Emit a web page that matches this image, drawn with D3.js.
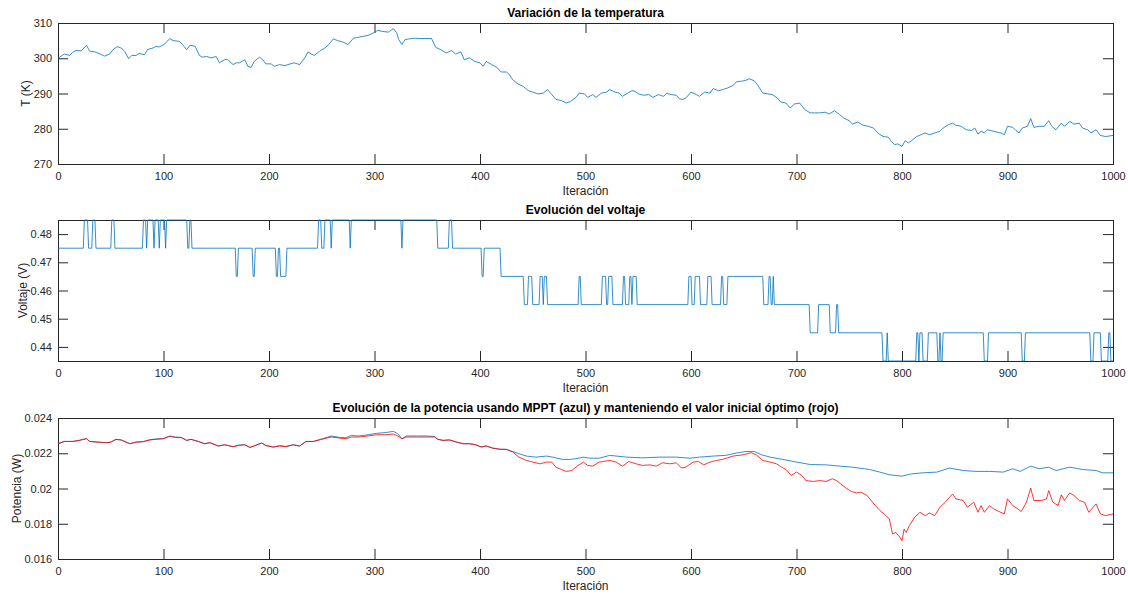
<!DOCTYPE html>
<html>
<head>
<meta charset="UTF-8">
<script src="https://cdn.jsdelivr.net/npm/d3@7"></script>
<style>
    body { margin: 0; background: #fff; }
    svg { display: block; font-family: "Liberation Sans", Arial, Helvetica, sans-serif; }
    .axis text { font-family: "Liberation Sans", Arial, Helvetica, sans-serif; font-size: 11px; fill: #262626; }
    .axis line { stroke: #262626; }
    .axis path { display: none; }
    .title { font-size: 12px; font-weight: bold; fill: #000; }
    .label { font-size: 12px; fill: #262626; }
</style>
</head>
<body>
<div id="chart"></div>
<script>
// temperature, [iteration, K]
const temperature = [
    [0,300],[6,301.2],[11,300.8],[14,301.7],[17,302.2],[22,302.1],[27,303.7],[30,302],[35,301.8],[40,301.2],
    [44,300.6],[49,301.2],[52,302.4],[56,303.3],[60,302.9],[63,302],[67,299.9],[70,300.8],[74,300.8],[77,301.4],
    [82,301],[85,302.5],[90,302.9],[93,303.4],[96,303.2],[101,304],[106,305.6],[109,305],[115,304.8],[118,303.9],
    [122,302.4],[125,303.7],[130,303.4],[134,300.8],[137,300.3],[141,300.5],[145,300.1],[150,300.5],[153,298.7],[158,299.6],
    [161,299.6],[166,298.2],[169,298.7],[172,298.7],[177,299.6],[180,297.7],[183,297.4],[186,299.1],[191,300.3],[194,299.6],
    [197,298.4],[202,298.4],[205,297.7],[210,298.2],[215,297.9],[220,298.4],[224,298.7],[229,298.2],[234,300.1],[237,301.8],
    [240,301.2],[243,300.8],[248,302],[253,302.9],[257,304],[261,305.5],[265,305],[270,304.6],[275,303.9],[280,305.7],
    [284,305.9],[289,306.2],[294,306.5],[299,307.2],[303,307.9],[308,307.6],[313,307.4],[318,308.4],[321,307.2],[323,305.3],
    [326,303.9],[329,305.3],[333,305.5],[338,305.7],[343,305.6],[347,305.6],[354,305.6],[358,303.1],[363,302.4],[368,301.5],
    [373,302.2],[377,301.2],[382,301.8],[385,299.6],[390,300.1],[395,299.1],[400,298.7],[403,297.7],[406,299.1],[411,298.2],
    [416,297.4],[420,296.1],[425,296.1],[428,295.3],[431,293.9],[436,292.7],[441,292],[446,290.8],[450,290.4],[455,289.9],
    [460,290.1],[464,291.1],[468,289.7],[472,288.3],[477,288],[482,287.3],[486,287.8],[491,288.9],[494,290.1],[499,289.9],
    [502,288.9],[507,289.7],[510,288.9],[515,290.1],[520,290.4],[523,291.1],[528,290.4],[532,290.1],[535,289.2],[540,290.1],
    [544,290.8],[547,290.6],[550,289.9],[555,289.5],[560,289.7],[564,288.9],[569,289.7],[574,289.2],[577,290.1],[581,289.7],
    [586,289.5],[589,288.5],[592,288.3],[595,288.7],[600,290.4],[605,289.7],[608,289.2],[613,290.4],[618,290.1],[621,291.4],
    [626,290.8],[630,291.1],[635,291.6],[640,292.3],[643,293.3],[648,293.5],[652,293.7],[655,294.2],[660,293.6],[663,292.5],
    [668,290.1],[673,289.9],[677,289.7],[682,288.7],[685,287.6],[690,287.3],[694,285.9],[698,287],[703,287.3],[708,285.4],
    [713,284.5],[717,284.5],[722,284.5],[727,284.7],[731,284.2],[736,285.1],[741,284],[745,283],[750,282.3],[753,281.3],
    [758,281.9],[763,281],[768,280.7],[773,280.2],[777,278.8],[782,277.8],[787,277.6],[790,276.4],[793,275.5],[796,275.7],
    [800,275],[803,276.6],[806,276],[809,276.6],[814,277.8],[818,278.3],[822,278.8],[826,278.3],[831,278.8],[836,279.3],
    [839,280.2],[843,281],[848,281.6],[851,281],[856,280.7],[861,279.7],[866,279.5],[869,280.2],[872,278.5],[875,279.3],
    [878,278.8],[881,279.7],[884,279.5],[889,279.1],[894,278.8],[897,278.3],[900,280.7],[905,280.4],[908,279.5],[911,278.8],
    [914,280.2],[919,280.7],[922,282.9],[925,280.4],[930,280.7],[935,280.7],[939,282.3],[942,280.7],[946,279.7],[951,281.6],
    [954,280.7],[959,282.1],[963,281.3],[968,281.6],[971,280.2],[976,279.7],[979,278.8],[984,279.7],[988,278.1],[993,277.8],
    [1000,278.1]
];

// voltage: the level holds from voltFrom[i] to voltTo[i]
const voltFrom = [0,25,29,33,36,51,54,81,84,85,91,92,96,97,102,103,123,125,127,169,171,185,187,207,209,211,217,247,250,253,259,260,277,278,326,327,360,371,374,402,404,420,442,446,450,457,460,461,464,494,496,516,520,522,526,536,538,542,544,545,549,598,601,604,609,616,620,629,631,635,669,674,676,678,679,713,721,732,738,740,782,786,787,814,816,817,820,825,834,836,837,839,878,882,914,917,979,982,989,996,998];
const voltTo   = [24,28,32,35,50,53,80,83,84,90,91,95,96,101,102,122,124,126,168,170,184,186,206,208,210,216,246,249,252,258,259,276,277,325,326,359,370,373,401,403,419,441,445,449,456,459,460,463,493,495,515,519,521,525,535,537,541,543,544,548,597,600,603,608,615,619,628,630,634,668,673,675,677,678,712,720,731,737,739,781,785,786,813,815,816,819,824,833,835,836,838,877,881,913,916,978,981,988,995,997,1000];
const voltLevel = [0.475,0.485,0.475,0.485,0.475,0.485,0.475,0.485,0.475,0.485,0.475,0.485,0.475,0.485,0.475,0.485,0.475,0.485,0.475,0.465,0.475,0.465,0.475,0.465,0.475,0.465,0.475,0.485,0.475,0.485,0.475,0.485,0.475,0.485,0.475,0.485,0.475,0.485,0.475,0.465,0.475,0.465,0.455,0.465,0.455,0.465,0.455,0.465,0.455,0.465,0.455,0.465,0.455,0.465,0.455,0.465,0.455,0.465,0.455,0.465,0.455,0.465,0.455,0.465,0.455,0.465,0.455,0.465,0.455,0.465,0.455,0.465,0.455,0.465,0.455,0.445,0.455,0.445,0.455,0.445,0.435,0.445,0.435,0.445,0.435,0.445,0.435,0.445,0.435,0.445,0.435,0.445,0.435,0.445,0.435,0.445,0.435,0.445,0.435,0.445,0.435];

// power with MPPT (blue), [iteration, W]
const powerMppt = [
    [0,0.02254],[6,0.02267],[14,0.02267],[20,0.02273],[27,0.02284],[30,0.02267],[38,0.02263],[46,0.0226],[50,0.02263],[55,0.02279],
    [60,0.02275],[68,0.02254],[74,0.02263],[81,0.02265],[87,0.02277],[93,0.02281],[100,0.02284],[106,0.02298],[111,0.02292],[117,0.0229],
    [122,0.02273],[126,0.02279],[133,0.02267],[139,0.02254],[144,0.0226],[152,0.02241],[158,0.02248],[166,0.02237],[171,0.02246],[177,0.02248],
    [182,0.02233],[186,0.02243],[193,0.02258],[197,0.02244],[204,0.02235],[210,0.02243],[216,0.02239],[223,0.02248],[229,0.02241],[235,0.02267],
    [242,0.02267],[250,0.02281],[259,0.02298],[267,0.0229],[273,0.02288],[278,0.02301],[285,0.02298],[294,0.02305],[302,0.02313],[310,0.02317],
    [318,0.02324],[322,0.02311],[326,0.02282],[330,0.02298],[340,0.02298],[349,0.02298],[357,0.02295],[360,0.02279],[365,0.02273],[371,0.02276],
    [378,0.02263],[384,0.02254],[390,0.02254],[396,0.02248],[401,0.02236],[406,0.02241],[412,0.02229],[419,0.02223],[425,0.02222],[431,0.0221],
    [437,0.02197],[444,0.02184],[453,0.02178],[463,0.02184],[469,0.02178],[478,0.02165],[485,0.02165],[491,0.02169],[498,0.02178],[504,0.02172],
    [513,0.02172],[523,0.02188],[539,0.02178],[554,0.02174],[570,0.02178],[586,0.02178],[599,0.02172],[608,0.02178],[621,0.02184],[633,0.02188],
    [643,0.02201],[652,0.0221],[660,0.0221],[667,0.02191],[675,0.02178],[687,0.02165],[700,0.0215],[713,0.02136],[728,0.02134],[741,0.02127],
    [753,0.02121],[769,0.02108],[779,0.02093],[788,0.02078],[800,0.0207],[809,0.02083],[820,0.02089],[833,0.02093],[845,0.02116],[858,0.02102],
    [870,0.02097],[883,0.02097],[896,0.02093],[905,0.02112],[912,0.02097],[922,0.02127],[930,0.02112],[939,0.02121],[946,0.02102],[959,0.02121],
    [971,0.02108],[984,0.02102],[990,0.02089],[1000,0.02089]
];

// power keeping the initial optimum voltage (red)
const powerFixed = [
    [0,0.02254],[6,0.02267],[14,0.02267],[20,0.02273],[27,0.02282],[30,0.02267],[38,0.02263],[46,0.0226],[50,0.02263],[55,0.02279],
    [60,0.02275],[68,0.02254],[74,0.02263],[81,0.02267],[87,0.02275],[93,0.02279],[100,0.02282],[106,0.02296],[111,0.0229],[117,0.02288],
    [122,0.02273],[126,0.02279],[133,0.02267],[139,0.02254],[144,0.0226],[152,0.02241],[158,0.02248],[166,0.02237],[171,0.02244],[177,0.02248],
    [182,0.02233],[186,0.02241],[193,0.02258],[197,0.02244],[204,0.02235],[210,0.02241],[216,0.02237],[223,0.02248],[229,0.02241],[235,0.02267],
    [242,0.02267],[250,0.02279],[259,0.02292],[267,0.02286],[273,0.02282],[278,0.02292],[285,0.02292],[294,0.02298],[302,0.02305],[310,0.02305],
    [318,0.02309],[322,0.02298],[326,0.02282],[330,0.02292],[340,0.02292],[349,0.02292],[357,0.02292],[360,0.02279],[365,0.02273],[371,0.02275],
    [378,0.02263],[384,0.02254],[390,0.02254],[396,0.02248],[401,0.02235],[406,0.02241],[412,0.02229],[419,0.02222],[425,0.02222],[431,0.02207],
    [437,0.02178],[444,0.02159],[450,0.0215],[457,0.0214],[463,0.0215],[468,0.0215],[472,0.02121],[477,0.02108],[482,0.02097],[487,0.02102],
    [493,0.02131],[498,0.0215],[502,0.02131],[507,0.02127],[513,0.0215],[523,0.02159],[529,0.0215],[535,0.02127],[541,0.02153],[548,0.0214],
    [554,0.02131],[561,0.02134],[567,0.02127],[573,0.02146],[580,0.0214],[586,0.02146],[591,0.02116],[595,0.02121],[602,0.0215],[607,0.02153],
    [612,0.02134],[618,0.0215],[624,0.02159],[630,0.02165],[640,0.02184],[649,0.02191],[657,0.02203],[662,0.02191],[668,0.02159],[675,0.0215],
    [681,0.0214],[686,0.02121],[690,0.02108],[695,0.02074],[700,0.02093],[705,0.02074],[709,0.02045],[716,0.0204],[722,0.02045],[728,0.0204],
    [734,0.02055],[738,0.02045],[742,0.02026],[747,0.02002],[752,0.01983],[757,0.01975],[761,0.01979],[767,0.0196],[772,0.01922],[779,0.01875],
    [783,0.01856],[788,0.01827],[791,0.01742],[794,0.01751],[797,0.01732],[800,0.01704],[802,0.0177],[804,0.01751],[807,0.01789],[812,0.01837],
    [817,0.01865],[822,0.01846],[826,0.01861],[831,0.01846],[836,0.01894],[841,0.01922],[845,0.0195],[848,0.01969],[851,0.01941],[858,0.01932],
    [862,0.01894],[868,0.01922],[872,0.01865],[875,0.01903],[878,0.01865],[883,0.01903],[887,0.01884],[892,0.01869],[897,0.01856],[900,0.01941],
    [905,0.01903],[910,0.01884],[913,0.01869],[918,0.01922],[922,0.02002],[925,0.01932],[932,0.01932],[937,0.01941],[939,0.01988],[943,0.01922],
    [948,0.01903],[951,0.01964],[954,0.01932],[959,0.01975],[963,0.0196],[968,0.01932],[973,0.01922],[977,0.01865],[984,0.01913],[988,0.01856],
    [993,0.01846],[1000,0.01856]
];

const xTicks = [0,100,200,300,400,500,600,700,800,900,1000];
const tempTicks = [270,280,290,300,310];
const voltTicks = [0.44,0.45,0.46,0.47,0.48];
const powTicks = [0.016,0.018,0.02,0.022,0.024];

var width = 1128, height = 594;
var left = 58, right = 1113, panelH = 141;

var svg = d3.select("#chart").append("svg")
    .attr("width", width)
    .attr("height", height);

var x = d3.scaleLinear().domain([0, 1000]).range([left, right]);

// one subplot: box, mirrored inward ticks, labels
function panel(top, yDomain, yTicks, yFmt, title, ylabel, ylabelX) {
    var bottom = top + panelH;
    var y = d3.scaleLinear().domain(yDomain).range([bottom, top]);
    var g = svg.append("g");

    g.append("g").attr("class", "axis").attr("transform", "translate(0," + bottom + ")")
        .call(d3.axisBottom(x).tickValues(xTicks).tickSize(-10).tickPadding(8).tickFormat(d3.format("d")));
    g.append("g").attr("class", "axis").attr("transform", "translate(0," + top + ")")
        .call(d3.axisTop(x).tickValues(xTicks).tickSize(-10).tickFormat(""));
    g.append("g").attr("class", "axis").attr("transform", "translate(" + left + ",0)")
        .call(d3.axisLeft(y).tickValues(yTicks).tickSize(-10).tickPadding(6).tickFormat(yFmt));
    g.append("g").attr("class", "axis").attr("transform", "translate(" + right + ",0)")
        .call(d3.axisRight(y).tickValues(yTicks).tickSize(-10).tickFormat(""));

    g.append("rect")
        .attr("x", left + 0.5).attr("y", top + 0.5)
        .attr("width", right - left).attr("height", panelH)
        .attr("fill", "none").attr("stroke", "#262626")
        .attr("shape-rendering", "crispEdges");

    g.append("text").attr("class", "title")
        .attr("x", (left + right) / 2).attr("y", top - 6)
        .attr("text-anchor", "middle").text(title);

    g.append("text").attr("class", "label")
        .attr("x", (left + right) / 2).attr("y", bottom + 31)
        .attr("text-anchor", "middle").text("Iteración");

    g.append("text").attr("class", "label")
        .attr("transform", "translate(" + ylabelX + "," + (top + bottom) / 2 + ") rotate(-90)")
        .attr("text-anchor", "middle").text(ylabel);

    return {g: g, y: y};
}

function drawLine(p, data, color) {
    var line = d3.line().x(function(d) { return x(d[0]); }).y(function(d) { return p.y(d[1]); });
    p.g.append("path").datum(data)
        .attr("d", line)
        .attr("fill", "none")
        .attr("stroke", color)
        .attr("stroke-width", 0.8)
        .attr("stroke-linejoin", "round");
}

var blue = "#0072BD", red = "#FF0000";

var p1 = panel(23, [270, 310], tempTicks, d3.format("d"), "Variación de la temperatura", "T (K)", 30);
drawLine(p1, temperature, blue);

var p2 = panel(220, [0.435, 0.485], voltTicks, d3.format(".2f"), "Evolución del voltaje", "Voltaje (V)", 27);
var voltPts = [];
voltLevel.forEach(function(v, i) {
    voltPts.push([voltFrom[i], v]);
    if (voltTo[i] !== voltFrom[i]) voltPts.push([voltTo[i], v]);
});
drawLine(p2, voltPts, blue);

var p3 = panel(418, [0.016, 0.024], powTicks, d3.format("~g"),
    "Evolución de la potencia usando MPPT (azul) y manteniendo el valor inicial óptimo (rojo)", "Potencia (W)", 21);
drawLine(p3, powerMppt, blue);
drawLine(p3, powerFixed, red);
</script>
</body>
</html>
